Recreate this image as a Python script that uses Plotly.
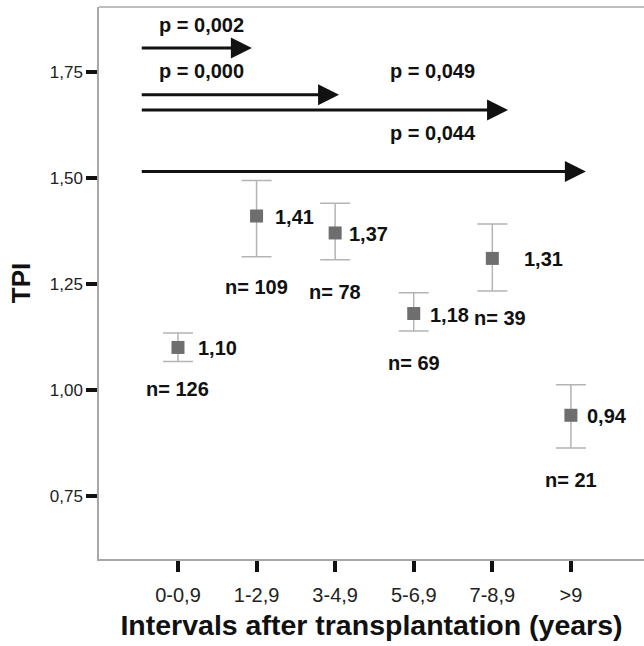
import plotly.graph_objects as go

categories = ["0-0,9", "1-2,9", "3-4,9", "5-6,9", "7-8,9", ">9"]
tpi_mean = [1.10, 1.41, 1.37, 1.18, 1.31, 0.94]
ci_upper = [1.134, 1.494, 1.440, 1.229, 1.391, 1.012]
ci_lower = [1.067, 1.314, 1.307, 1.139, 1.233, 0.863]
mean_labels = ["1,10", "1,41", "1,37", "1,18", "1,31", "0,94"]
n_labels = ["n= 126", "n= 109", "n= 78", "n= 69", "n= 39", "n= 21"]
n_label_y = [1.002, 1.243, 1.231, 1.064, 1.170, 0.788]
n_label_dx = [0, 0, 0, 0, 8, 0]
mean_label_dx = [18, 16, 12, 14, 30, 14]

# comparison arrows (start index, end index, y level) and p-values
arrow_start = [-0.48, -0.48, -0.48, -0.48]
arrow_end = [0.94, 2.05, 4.20, 5.19]
arrow_y = [1.806, 1.696, 1.660, 1.515]
p_texts = ["p = 0,002", "p = 0,000", "p = 0,049", "p = 0,044"]
p_x = [0.305, 0.305, 3.24, 3.24]
p_y = [1.861, 1.751, 1.751, 1.606]

xi = list(range(len(categories)))

fig = go.Figure()
fig.add_trace(go.Scatter(
    x=xi, y=tpi_mean, mode="markers",
    marker=dict(symbol="square", size=13, color="#6e6e6e"),
    error_y=dict(type="data", symmetric=False,
                 array=[u - m for u, m in zip(ci_upper, tpi_mean)],
                 arrayminus=[m - l for m, l in zip(tpi_mean, ci_lower)],
                 color="#b4b4b4", thickness=1.5, width=15),
    showlegend=False, hoverinfo="skip"))

ann = []
bold = dict(family="Liberation Sans, Arial, sans-serif", size=20, color="#111111")
for i in xi:
    ann.append(dict(x=i, y=tpi_mean[i], xref="x", yref="y", text="<b>%s</b>" % mean_labels[i],
                    showarrow=False, xanchor="left", yanchor="middle",
                    xshift=mean_label_dx[i], yshift=-1, font=bold))
    ann.append(dict(x=i, y=n_label_y[i], xref="x", yref="y", text="<b>%s</b>" % n_labels[i],
                    showarrow=False, xanchor="center", yanchor="middle",
                    xshift=n_label_dx[i], font=bold))
for k in range(len(arrow_end)):
    ann.append(dict(x=arrow_end[k], y=arrow_y[k], ax=arrow_start[k], ay=arrow_y[k],
                    xref="x", yref="y", axref="x", ayref="y", text="",
                    showarrow=True, arrowhead=2, arrowsize=1.4, arrowwidth=3,
                    arrowcolor="#111111", standoff=0))
    ann.append(dict(x=p_x[k], y=p_y[k], xref="x", yref="y", text="<b>%s</b>" % p_texts[k],
                    showarrow=False, xanchor="center", yanchor="middle", font=bold))

fig.update_layout(
    width=644, height=646,
    margin=dict(l=99, r=0, t=7, b=87),
    paper_bgcolor="white", plot_bgcolor="white",
    font=dict(family="Liberation Sans, Arial, sans-serif", color="#222222"),
    annotations=ann,
    shapes=[dict(type="line", xref="paper", yref="paper", x0=0, x1=1, y0=1, y1=1,
                 line=dict(color="#a8a8a8", width=1.5))],
    xaxis=dict(range=[-1.005, 5.93], tickmode="array", tickvals=xi, ticktext=categories,
               showgrid=False, zeroline=False, showline=True, linecolor="#a8a8a8", linewidth=1.5,
               ticks="outside", ticklen=11, tickwidth=4, tickcolor="#111111",
               tickfont=dict(size=20, color="#222222"), ticklabelstandoff=6,
               title=dict(text="<b>Intervals after transplantation (years)</b>",
                          font=dict(size=28.5, color="#111111"), standoff=10)),
    yaxis=dict(range=[0.601, 1.903], tickmode="array",
               tickvals=[0.75, 1.00, 1.25, 1.50, 1.75],
               ticktext=["0,75", "1,00", "1,25", "1,50", "1,75"],
               showgrid=False, zeroline=False, showline=True, linecolor="#a8a8a8", linewidth=1.5,
               ticks="outside", ticklen=11, tickwidth=4, tickcolor="#111111",
               tickfont=dict(size=17, color="#222222"),
               title=dict(text="<b>TPI</b>", font=dict(size=26, color="#111111"), standoff=12)),
)

fig.write_html("out.html")
